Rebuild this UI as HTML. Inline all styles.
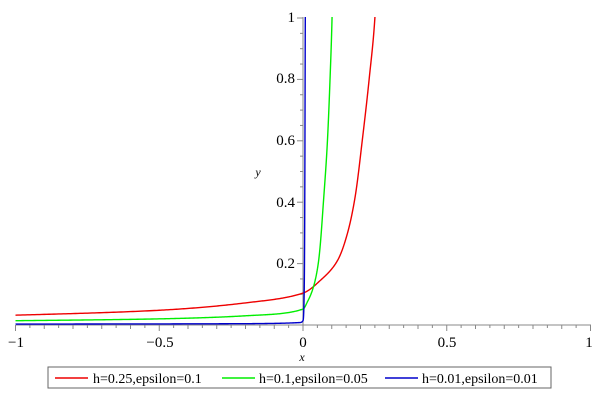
<!DOCTYPE html>
<html><head><style>body{margin:0;background:#fff}svg{display:block}text{font-family:"Liberation Serif",serif}</style></head>
<body>
<svg id="s" width="600" height="400" xmlns="http://www.w3.org/2000/svg">
<defs><clipPath id="c"><rect x="0" y="17" width="600" height="320"/></clipPath></defs>
<g id="ax" stroke="#888" stroke-width="1" fill="none"></g>
<g font-size="15" fill="#000">
<text x="16" y="347" text-anchor="middle">−1</text>
<text x="160" y="347" text-anchor="middle">−0.5</text>
<text x="303" y="347" text-anchor="middle">0</text>
<text x="447" y="347" text-anchor="middle">0.5</text>
<text x="589" y="347" text-anchor="middle">1</text>
<text x="295" y="268" text-anchor="end">0.2</text>
<text x="295" y="207" text-anchor="end">0.4</text>
<text x="295" y="145" text-anchor="end">0.6</text>
<text x="295" y="83" text-anchor="end">0.8</text>
<text x="295" y="22" text-anchor="end">1</text>
<text x="302" y="361" font-size="12" font-style="italic" text-anchor="middle">x</text>
<text x="258" y="176" font-size="12" font-style="italic" text-anchor="middle">y</text>
</g>
<g id="cv" clip-path="url(#c)" fill="none" stroke-width="1.4"></g>
<rect x="48" y="367" width="503" height="21" fill="none" stroke="#666"/>
<line x1="55" y1="378" x2="88" y2="378" stroke="#e00" stroke-width="1.4"/>
<line x1="222" y1="378" x2="255" y2="378" stroke="#0e0" stroke-width="1.4"/>
<line x1="385" y1="378" x2="418" y2="378" stroke="#00c" stroke-width="1.4"/>
<g font-size="14"><text x="93" y="383">h=0.25,epsilon=0.1</text><text x="259" y="383">h=0.1,epsilon=0.05</text><text x="422" y="383">h=0.01,epsilon=0.01</text></g>
</svg>
<script>
var X=x=>303+x*287.5, Y=y=>325-y*307;
var ax=document.getElementById('ax'),h='';
h+='<line x1="16" y1="325" x2="591" y2="325"/><line x1="303" y1="17" x2="303" y2="325"/>';
for(var i=-20;i<=20;i++){var x=X(i*0.05),l=(i%10==0)?6:(i%2==0?4:3);h+='<line x1="'+x+'" y1="325" x2="'+x+'" y2="'+(325+l)+'"/>';}
for(var j=1;j<=20;j++){var y=Y(j*0.05),l=(j%4==0)?6:3;h+='<line x1="'+(303-l)+'" y1="'+y+'" x2="303" y2="'+y+'"/>';}
ax.innerHTML=h;
function curve(P,col){
  var n=P.length,xs=P.map(p=>p[0]),ys=P.map(p=>Math.log(p[1])),dl=[],m=[];
  for(var k=0;k<n-1;k++)dl.push((ys[k+1]-ys[k])/(xs[k+1]-xs[k]));
  m[0]=dl[0];m[n-1]=dl[n-2];
  for(k=1;k<n-1;k++){
    if(dl[k-1]*dl[k]<=0)m[k]=0;else{
      var w1=2*(xs[k+1]-xs[k])+(xs[k]-xs[k-1]),w2=(xs[k+1]-xs[k])+2*(xs[k]-xs[k-1]);
      m[k]=(w1+w2)/(w1/dl[k-1]+w2/dl[k]);}
  }
  var d='';
  for(k=0;k<n-1;k++){
    var hh=xs[k+1]-xs[k],N=60;
    for(var t=(k?1:0);t<=N;t++){
      var s=t/N,h00=2*s*s*s-3*s*s+1,h10=s*s*s-2*s*s+s,h01=-2*s*s*s+3*s*s,h11=s*s*s-s*s;
      var ly=h00*ys[k]+h10*hh*m[k]+h01*ys[k+1]+h11*hh*m[k+1];
      var x=xs[k]+s*hh,y=Math.exp(ly);
      d+=(d?'L':'M')+X(x).toFixed(2)+','+Y(y).toFixed(2);
    }
  }
  return '<path d="'+d+'" stroke="'+col+'" stroke-linejoin="round"/>';
}
document.getElementById('cv').innerHTML=
curve([[-1,0.032],[-0.5,0.048],[-0.2,0.072],[0,0.104],[0.06,0.145],[0.12,0.21],[0.155,0.3],[0.18,0.41],[0.206,0.6],[0.23,0.8],[0.25,1.0],[0.26,1.2]],'#e00')+
curve([[-1,0.014],[-0.5,0.02],[-0.2,0.03],[0,0.052],[0.015,0.075],[0.035,0.12],[0.053,0.2],[0.071,0.4],[0.085,0.6],[0.094,0.8],[0.101,1],[0.105,1.2]],'#0e0')+
curve([[-1,0.003],[-0.3,0.004],[-0.01,0.008],[0.0,0.014],[0.004,0.1],[0.008,1],[0.009,1.2]],'#00c');
</script>
</body></html>
